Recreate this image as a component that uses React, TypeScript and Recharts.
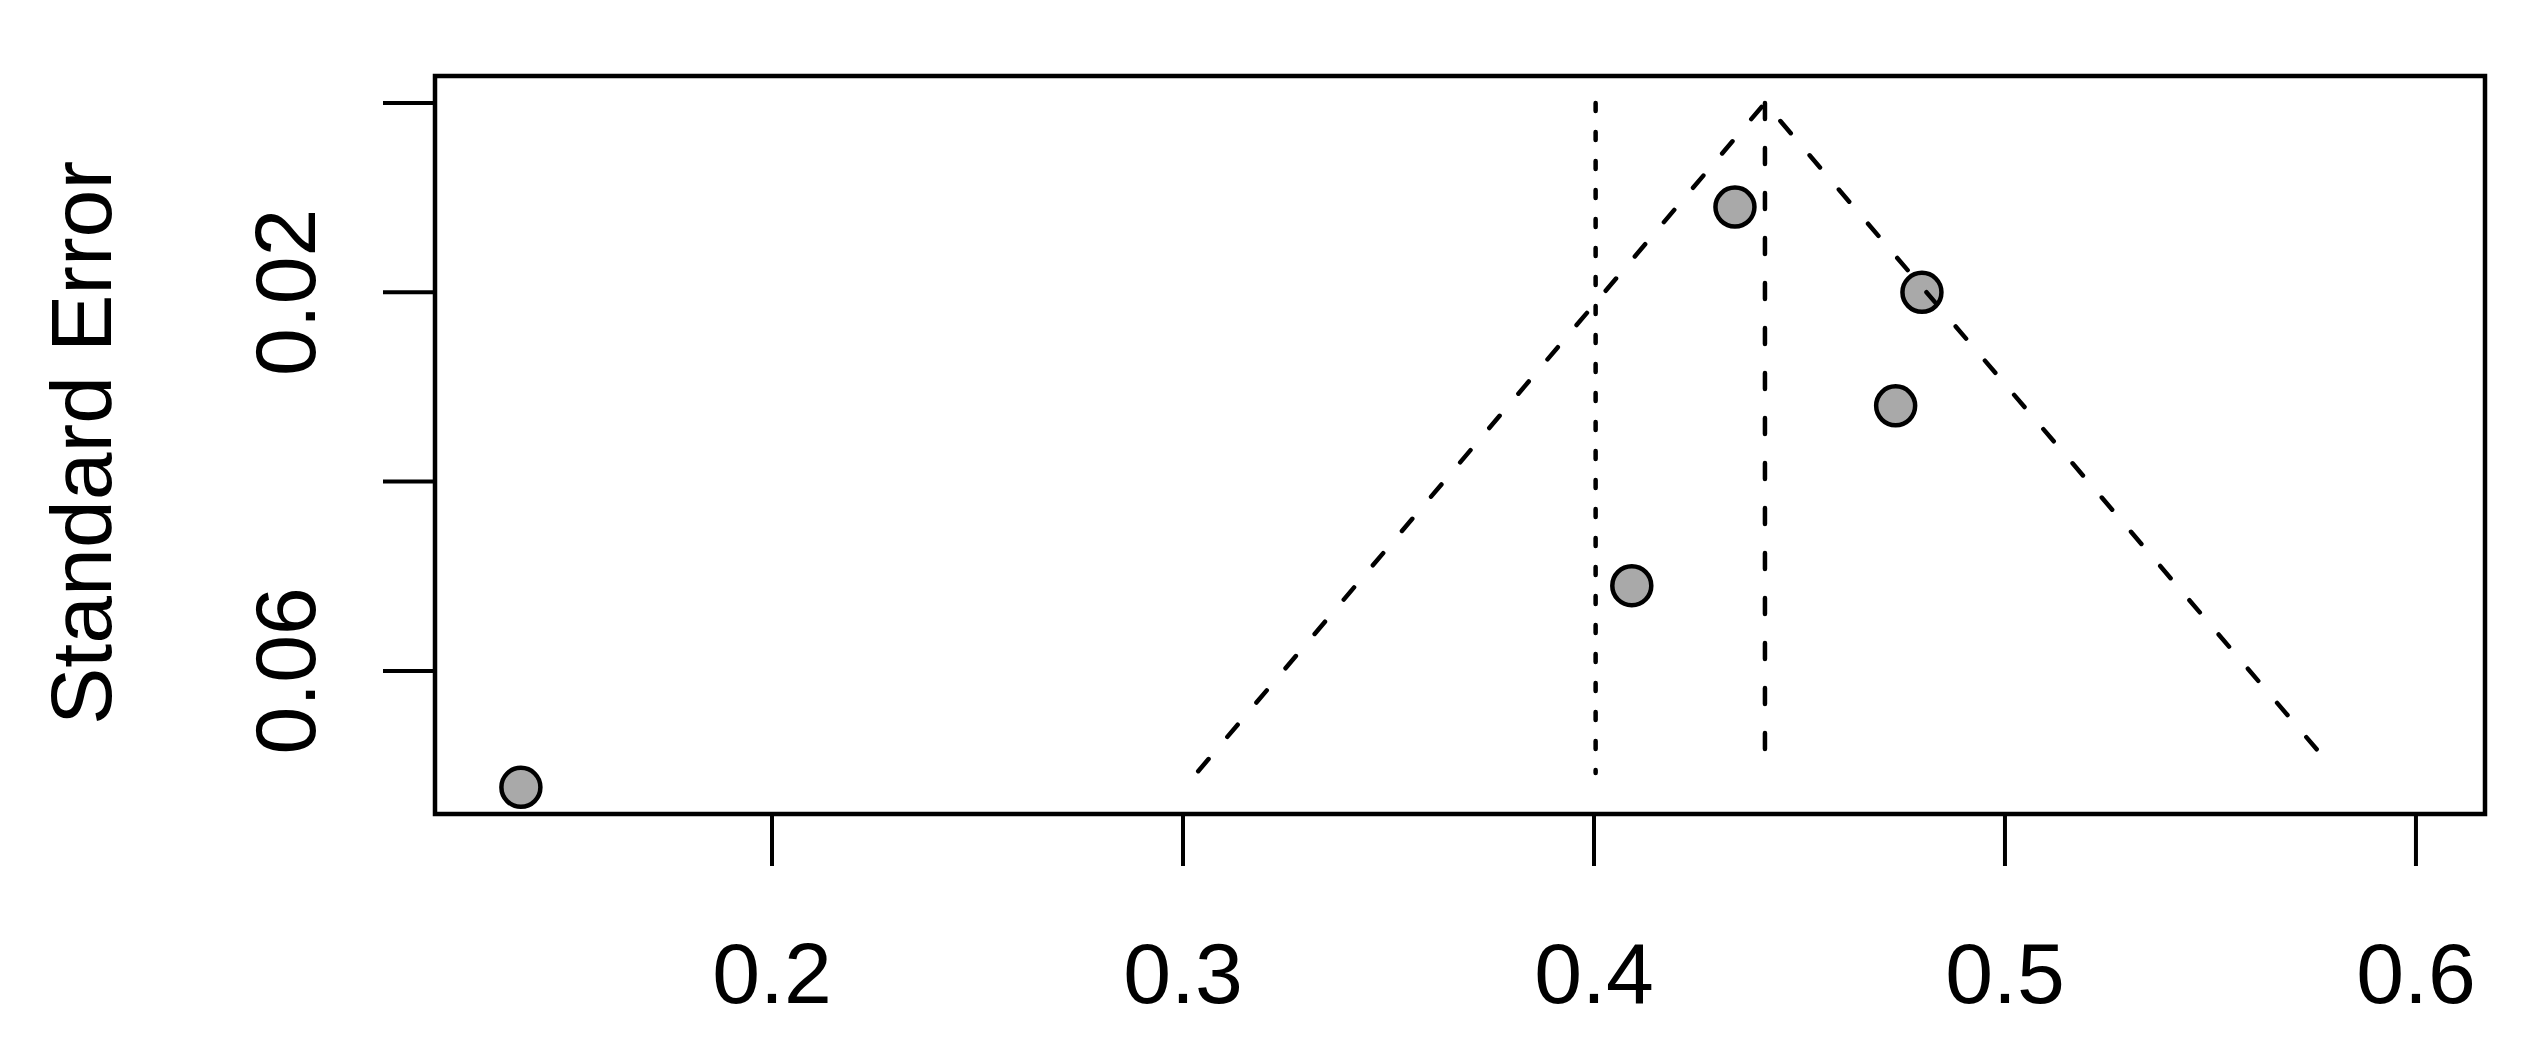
import React from "react";
import { ScatterChart, Scatter, XAxis, YAxis, ReferenceLine, ReferenceArea } from "recharts";

// Study effect sizes and standard errors
const effectSizes = [0.1389, 0.4092, 0.4343, 0.4798, 0.4734];
const standardErrors = [0.0723, 0.0510, 0.0110, 0.0200, 0.0320];

// Funnel outline (bottom-left -> apex -> bottom-right)
const funnelX = [0.3037, 0.4416, 0.5804];
const funnelSE = [0.0706, 0.0, 0.0706];

// Reference lines
const pooledEstimate = 0.4416;
const adjustedEstimate = 0.4004;
const refLineSE = [0.0, 0.0708];

// Axes
const xTicks = [0.2, 0.3, 0.4, 0.5, 0.6];
const yTicks = [0, 0.02, 0.04, 0.06];
const yLabelled = ["0.02", "0.06"];
const yTitle = "Standard Error";

const X_DOMAIN: [number, number] = [0.118, 0.6168];
const Y_DOMAIN: [number, number] = [-0.00285, 0.07512];

const points = effectSizes.map((x, i) => ({ x, y: standardErrors[i] }));
const funnel = funnelX.map((x, i) => ({ x, y: funnelSE[i] }));

const FONT = "'Liberation Sans', Arial, Helvetica, sans-serif";
const FS = 86;

const XTick = (props: any) => {
  const { x, y, payload } = props;
  return (
    <text x={x} y={y + 137} textAnchor="middle" fontSize={FS} fontFamily={FONT} fill="#000">
      {String(payload.value)}
    </text>
  );
};

const YTick = (props: any) => {
  const { x, y, payload } = props;
  const label = String(payload.value);
  if (!yLabelled.includes(label)) return <g />;
  const bx = x - 68;
  return (
    <text
      x={bx}
      y={y}
      transform={`rotate(-90, ${bx}, ${y})`}
      textAnchor="middle"
      fontSize={FS}
      fontFamily={FONT}
      fill="#000"
    >
      {label}
    </text>
  );
};

const YTitle = (props: any) => {
  const vb = props.viewBox || { x: 0, y: 68, width: 427, height: 738 };
  const bx = vb.x + 103;
  const cy = vb.y + vb.height / 2 - 2;
  return (
    <text
      x={bx}
      y={cy}
      transform={`rotate(-90, ${bx}, ${cy})`}
      textAnchor="middle"
      fontSize={FS}
      fontFamily={FONT}
      fill="#000"
    >
      {yTitle}
    </text>
  );
};

const Dot = (p: any) => (
  <circle cx={p.cx} cy={p.cy} r={19.5} fill="#a9a9a9" stroke="#000" strokeWidth={4.5} />
);

const NoShape = () => <g />;

export default function App() {
  return (
    <div style={{ width: 2529, height: 1045, background: "#fff" }}>
      <ScatterChart
        width={2529}
        height={1045}
        margin={{ top: 68, right: 52, bottom: 0, left: 0 }}
      >
        <XAxis
          type="number"
          dataKey="x"
          domain={X_DOMAIN}
          ticks={xTicks}
          allowDataOverflow
          axisLine={false}
          tickLine={{ stroke: "#000", strokeWidth: 4 }}
          tickSize={52}
          tickMargin={0}
          height={239}
          tick={<XTick />}
          interval={0}
        />
        <YAxis
          type="number"
          dataKey="y"
          domain={Y_DOMAIN}
          ticks={yTicks}
          reversed
          allowDataOverflow
          axisLine={false}
          tickLine={{ stroke: "#000", strokeWidth: 4 }}
          tickSize={52}
          tickMargin={0}
          width={427}
          tick={<YTick />}
          interval={0}
          label={<YTitle />}
        />
        <ReferenceArea
          x1={X_DOMAIN[0]}
          x2={X_DOMAIN[1]}
          y1={Y_DOMAIN[0]}
          y2={Y_DOMAIN[1]}
          fill="none"
          fillOpacity={0}
          stroke="#000"
          strokeWidth={4.5}
          ifOverflow="visible"
        />
        <Scatter data={points} shape={Dot} isAnimationActive={false} />
        <Scatter
          data={funnel}
          shape={NoShape}
          line={{ stroke: "#000", strokeWidth: 4.5, strokeDasharray: "16 29", strokeLinecap: "round" }}
          lineType="joint"
          isAnimationActive={false}
        />
        <ReferenceLine
          segment={[
            { x: pooledEstimate, y: refLineSE[0] },
            { x: pooledEstimate, y: refLineSE[1] },
          ]}
          stroke="#000"
          strokeWidth={4.5}
          strokeDasharray="16 29"
          strokeLinecap="round"
          ifOverflow="visible"
        />
        <ReferenceLine
          segment={[
            { x: adjustedEstimate, y: refLineSE[0] },
            { x: adjustedEstimate, y: refLineSE[1] },
          ]}
          stroke="#000"
          strokeWidth={4.5}
          strokeDasharray="8 21"
          strokeLinecap="round"
          ifOverflow="visible"
        />
      </ScatterChart>
    </div>
  );
}
